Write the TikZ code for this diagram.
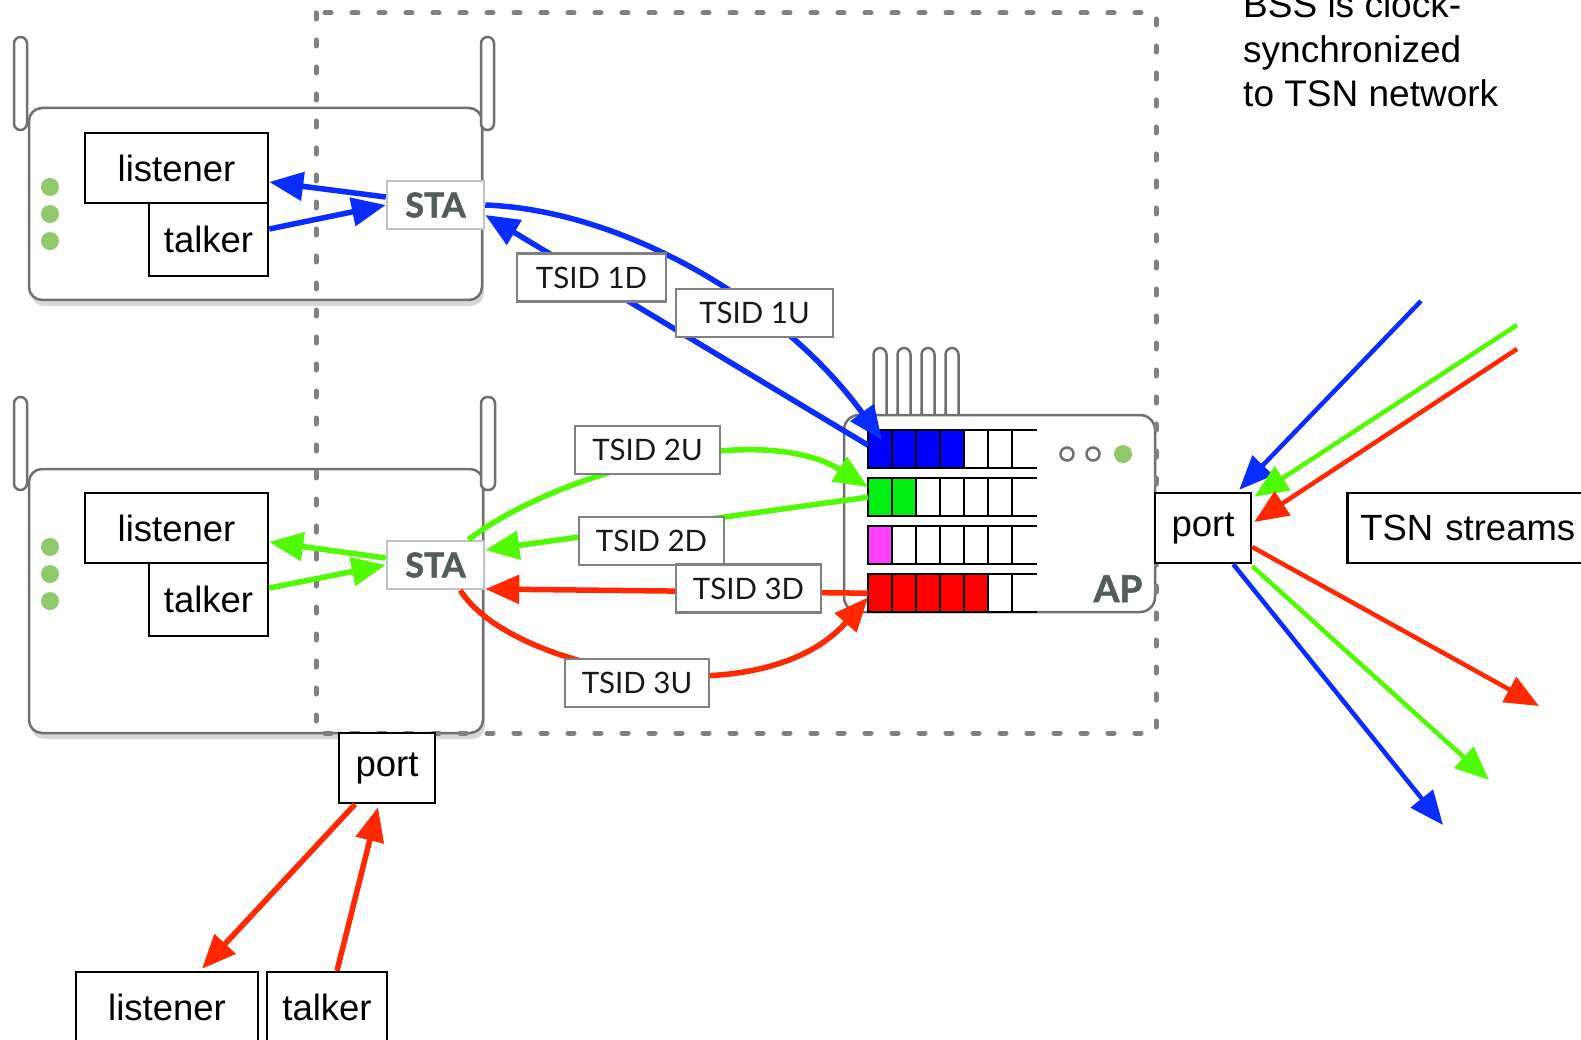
\documentclass[tikz,border=0pt]{standalone}
\usepackage{fontspec}
\setmainfont{Liberation Sans}
\newfontfamily\latofont{Lato}
\newfontfamily\latoheavy{Lato}[BoldFeatures={FakeBold=1.6}]
\usetikzlibrary{arrows.meta}
\definecolor{lblue}{RGB}{10,45,255}
\definecolor{lgreen}{RGB}{80,250,0}
\definecolor{lred}{RGB}{255,40,0}
\definecolor{qblue}{RGB}{0,0,255}
\definecolor{qgreen}{RGB}{0,240,20}
\definecolor{qmag}{RGB}{255,64,255}
\definecolor{qred}{RGB}{255,0,0}
\definecolor{devgray}{RGB}{112,112,112}
\definecolor{dotgray}{RGB}{128,128,128}
\definecolor{led}{RGB}{146,200,108}
\definecolor{stagray}{RGB}{85,92,92}
\definecolor{staedge}{RGB}{188,196,196}
\definecolor{shadowgray}{RGB}{215,215,215}
\begin{document}
\begin{tikzpicture}[x=1pt,y=-1pt,
  bx/.style={draw=black, line width=2.5pt, fill=white, inner sep=0pt, font=\fontsize{36.5}{40}\selectfont},
  tsid/.style={draw=dotgray, line width=2.5pt, fill=white, inner sep=0pt, minimum height=48pt, font=\latofont\fontsize{29.5}{32}\selectfont, text=black!90},
  sta/.style={draw=staedge, line width=2.5pt, fill=white, inner sep=0pt, minimum width=97pt, minimum height=48pt, font=\latoheavy\bfseries\fontsize{34}{36}\selectfont, text=stagray},
  arr/.style={-{Triangle[length=34pt,width=28pt]}, line width=5.5pt},
  arrtwo/.style={-{Triangle[length=34pt,width=28pt]}, line width=4.5pt},
  dev/.style={draw=devgray, line width=2.5pt, fill=white, rounded corners=13pt},
  ant/.style={draw=devgray, line width=2.5pt, fill=white, rounded corners=6.5pt},
]
\clip (0,0) rectangle (1581,1040);
\fill[white] (0,0) rectangle (1581,1040);

% ---- device 1
\fill[shadowgray, rounded corners=13pt] (31,114) rectangle (484,306);
\draw[dev] (29,108) rectangle (482,300);
\draw[ant] (14,37) rectangle (27,130);
\draw[ant] (481,37) rectangle (494,130);
\foreach \yy in {187,214,241} \fill[led] (50,\yy) circle[radius=9pt];

% ---- device 2
\fill[shadowgray, rounded corners=13pt] (31,475) rectangle (485,739);
\draw[dev] (29,469) rectangle (483,733);
\draw[ant] (14,397) rectangle (27,490);
\draw[ant] (481,397) rectangle (495,490);
\foreach \yy in {547,574,601} \fill[led] (50,\yy) circle[radius=9pt];

% ---- AP
\foreach \xx in {880,904,928,952} \draw[ant] (\xx-6.5,348) rectangle (\xx+6.5,430);
\draw[dev, rounded corners=15pt] (844,415) rectangle (1155,612);
\draw[devgray, line width=2.5pt] (1067,454) circle[radius=6.5pt];
\draw[devgray, line width=2.5pt] (1093,454) circle[radius=6.5pt];
\fill[led] (1123,454) circle[radius=9pt];
\node[anchor=base, inner sep=0pt, font=\latoheavy\bfseries\fontsize{37}{40}\selectfont, text=stagray] (aplabel) at (1118,602) {AP};

% ---- queues
\foreach \r/\yt/\n/\c in {1/430/4/qblue, 2/478/2/qgreen, 3/526/1/qmag, 4/574/5/qred} {
  \node[minimum width=169pt, minimum height=38pt, inner sep=0pt, anchor=north west] (q\r) at (868,\yt) {};
  \foreach \k in {0,...,5} {
    \ifnum\k<\n \def\cc{\c}\else\def\cc{white}\fi
    \filldraw[fill=\cc, draw=black, line width=2.5pt] (868+24*\k,\yt) rectangle ++(24,38);
  }
  \draw[black, line width=2.5pt] (1012,\yt) -- (1037,\yt) (1012,\yt+38) -- (1037,\yt+38);
}

% ---- BSS boundary
\draw[dotgray, line width=5pt, line cap=round, dash pattern=on 6pt off 21pt] (316,13) rectangle (1156,733);

% ---- boxes
\node[bx, minimum width=183pt, minimum height=70pt] (L1) at (176.5,168) {listener};
\node[bx, minimum width=119pt, minimum height=73pt] (T1) at (208.5,239.5) {talker};
\node[sta] (S1) at (435.5,205) {STA};
\node[bx, minimum width=183pt, minimum height=70pt] (L2) at (176.5,528) {listener};
\node[bx, minimum width=119pt, minimum height=73pt] (T2) at (208.5,599.5) {talker};
\node[sta] (S2) at (435.5,565) {STA};
\node[bx, minimum width=96pt, minimum height=70pt] (pR) at (1203,528) {port};
\node[bx, anchor=west, minimum height=70pt, text width=236pt, inner xsep=13pt, align=left] (tsn) at (1346,528) {TSN streams};
\node[bx, minimum width=96pt, minimum height=70pt] (pB) at (387,768) {port};
\node[bx, minimum width=182pt, minimum height=70pt] (LB) at (167,1007) {listener};
\node[bx, minimum width=120pt, minimum height=70pt] (TB) at (327,1007) {talker};

% ---- connectors, station 1 (blue)
\draw[arr, lblue] ([yshift=8pt]S1.west) -- ([yshift=-14pt]L1.east);
\draw[arr, lblue] ([yshift=10.5pt]T1.east) -- (S1.west);
\draw[arr, lblue] (S1.east) .. controls (620,210) and (780,300) .. ([xshift=14pt,yshift=-10pt]q1.north west);
\draw[arr, lblue] ([yshift=4pt]q1.west) -- ([yshift=-10pt]S1.east);

% ---- connectors, station 2 (green, red)
\draw[arr, lgreen] ([yshift=7pt]S2.west) -- ([yshift=-14pt]L2.east);
\draw[arr, lgreen] ([yshift=11.5pt]T2.east) -- (S2.west);
\draw[arr, lgreen] ([xshift=-17pt]S2.north east) .. controls (560,470) and (760,420) .. ([yshift=-9pt]q2.north west);
\draw[arr, lgreen] (q2.west) -- ([yshift=15pt]S2.east);
\draw[arr, lred] (q4.west) -- ([yshift=-24pt]S2.east);
\draw[arr, lred] ([xshift=-25pt]S2.south east) .. controls (510,670) and (760,720) .. ([yshift=15pt]q4.south west);

% ---- TSN streams at the AP port
\coordinate (bi) at (1421,301);
\coordinate (gi) at (1517,325);
\coordinate (ri) at (1517,349);
\coordinate (ro) at (1539,706);
\coordinate (go) at (1489,780);
\coordinate (bo) at (1443,825);
\draw[arrtwo, lblue] (bi) -- ([xshift=-13pt,yshift=2pt]pR.north east);
\draw[arrtwo, lgreen] (gi) -- ([xshift=2pt,yshift=-5pt]pR.north east);
\draw[arrtwo, lred] (ri) -- ([xshift=2pt,yshift=6pt]pR.east);
\draw[arrtwo, lred] ([yshift=-19pt]pR.east) -- (ro);
\draw[arrtwo, lgreen] ([yshift=-2pt]pR.south east) -- (go);
\draw[arrtwo, lblue] ([xshift=-19pt]pR.south east) -- (bo);

% ---- bottom port
\draw[arr, lred] ([xshift=-32pt]pB.south) -- ([xshift=35pt,yshift=2pt]LB.north);
\draw[arr, lred] ([xshift=10pt]TB.north) -- ([xshift=-9pt,yshift=-3pt]pB.south);

% ---- TSID labels
\node[tsid, minimum width=149pt] (t1d) at (591.5,277.5) {TSID 1D};
\node[tsid, minimum width=157pt] (t1u) at (754.5,313) {TSID 1U};
\node[tsid, minimum width=145pt] (t2u) at (647.5,450) {TSID 2U};
\node[tsid, minimum width=145pt] (t2d) at (651.5,541) {TSID 2D};
\node[tsid, minimum width=145pt] (t3d) at (748.5,588.5) {TSID 3D};
\node[tsid, minimum width=144pt] (t3u) at (637,683) {TSID 3U};

% ---- note
\node[anchor=base west, inner sep=0pt, align=left, font=\fontsize{37}{44.5}\selectfont] (bss) at (1243,107) {BSS is clock-\\synchronized\\to TSN network};
\end{tikzpicture}
\end{document}
